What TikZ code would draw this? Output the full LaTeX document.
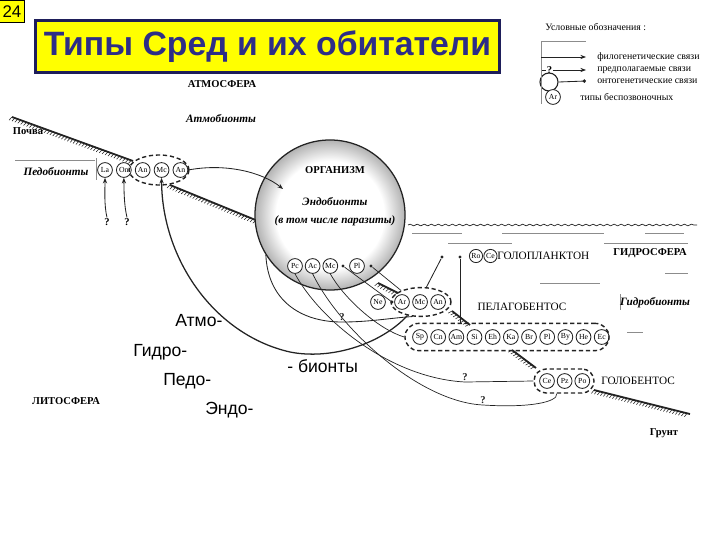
\documentclass[tikz,border=0pt]{standalone}
\usepackage{fontspec}
\setmainfont{Liberation Serif}
\setsansfont{Liberation Sans}
\usetikzlibrary{arrows.meta, positioning, shapes.geometric,
                decorations.markings, decorations.pathmorphing}
\definecolor{TitleYellow}{RGB}{255,255,  0}
\definecolor{TitleNavy}  {RGB}{ 45, 45,135}
\definecolor{FrameNavy}  {RGB}{ 30, 30, 90}
\definecolor{InkGray}    {RGB}{ 35, 35, 35}
\definecolor{FaintGray}  {RGB}{140,140,140}
\pgfdeclareradialshading{organismrim}{\pgfpoint{0bp}{0bp}}{%
  color(0bp)=(white); color(18bp)=(white);
  color(25bp)=(black!30); color(50bp)=(black!30)}
\tikzset{
  % Small circle holding an invertebrate type
  taxon/.style={
    circle, draw=InkGray, line width=0.6pt, fill=white,
    inner sep=0pt, minimum size=0.37cm,
    font=\fontsize{5.5}{6}\selectfont
  },
  % Dashed ellipse round a group of types
  taxongrp/.style={
    ellipse, draw=InkGray, line width=1pt, dash pattern=on 3pt off 2pt,
    inner sep=0pt
  },
  % Dashed band round a long row of types
  taxonband/.style={
    rectangle, rounded corners=#1, draw=InkGray, line width=1pt,
    dash pattern=on 3pt off 2pt, inner sep=0pt
  },
  taxonband/.default=0.34cm,
  % Ontogenetic end dot
  ontodot/.style={circle, fill=InkGray, inner sep=0pt, minimum size=2.4pt},
  % Labels
  capslbl/.style={font=\fontsize{7.5}{8}\selectfont\bfseries, inner sep=0pt},
  capsthin/.style={font=\fontsize{8}{9}\selectfont, inner sep=0pt},
  italbl/.style={font=\fontsize{8}{9}\selectfont\bfseries\itshape, inner sep=0pt},
  bigword/.style={font=\sffamily\fontsize{12.5}{14}\selectfont, inner sep=0pt, anchor=west},
  legendtxt/.style={font=\fontsize{7}{8}\selectfont, anchor=west, inner sep=0pt},
  qmark/.style={font=\fontsize{7.5}{8}\selectfont\bfseries, inner sep=0.5pt},
  % Ground surface with hatching below
  ground/.style={
    line width=1.3pt, InkGray,
    postaction={decorate, decoration={markings,
      mark=between positions 0 and 1 step 2.2pt with
        {\draw[line width=0.4pt] (0,0) -- (-1.2pt,-2.8pt);}}}
  },
  % Links
  phylo/.style={-{Stealth[length=4pt, width=3pt]}, line width=0.6pt, InkGray},
  onto/.style={-{Circle[length=2.4pt]}, line width=0.6pt, InkGray},
  plainlink/.style={line width=0.6pt, InkGray},
  waveline/.style={FaintGray, line width=0.6pt}
}

\begin{document}
\begin{tikzpicture}[x=0.025cm, y=-0.025cm]
  \useasboundingbox (0,0) rectangle (720,540);

  % ── TITLE ────────────────────────────────────────────────────────────────
  \node[draw=black, fill=TitleYellow, line width=0.6pt, inner sep=0pt,
        minimum width=0.62cm, minimum height=0.57cm,
        font=\sffamily\fontsize{12}{12}\selectfont] (slide_no) at (12,11.5) {24};
  \node[draw=FrameNavy, fill=TitleYellow, line width=1.6pt,
        minimum width=11.6cm, minimum height=1.3cm, inner sep=0pt,
        font=\sffamily\bfseries\fontsize{24}{28}\selectfont, text=TitleNavy]
        (title) at (267.5,46.5) {Типы Сред и их обитатели};

  % ── LEGEND ───────────────────────────────────────────────────────────────
  \node[legendtxt] (leg_hdr)   at (545,27) {Условные обозначения :};
  \node[legendtxt] (leg_phylo) at (597,57) {филогенетические связи};
  \node[legendtxt] (leg_guess) at (597,70) {предполагаемые связи};
  \node[legendtxt] (leg_onto)  at (597,81) {онтогенетические связи};
  \node[legendtxt] (leg_type)  at (580,97) {типы беспозвоночных};
  \coordinate (leg_top) at (541,41);
  \coordinate (leg_bot) at (541,104);
  \coordinate (leg_a1) at (586,57);
  \coordinate (leg_a2) at (586,70);
  \coordinate (leg_a3) at (586,81);
  \node[qmark, anchor=east] (leg_q) at (553,70) {?};
  \node[circle, draw=InkGray, line width=0.8pt, minimum size=0.45cm,
        inner sep=0pt] (leg_grp) at (549,82) {};
  \node[taxon] (leg_ar) at (553,97) {Ar};
  \draw[FaintGray, line width=0.5pt] (leg_top) -- (leg_bot);
  \draw[FaintGray, line width=0.5pt] (leg_top) -- (leg_top -| leg_a1);
  \draw[phylo] (leg_top |- leg_phylo) -- (leg_a1);
  \draw[phylo] (leg_q.east) -- (leg_a2);
  \draw[onto] (leg_grp.east) -- (leg_a3);
  \draw[plainlink] (leg_grp.north west |- leg_q) -- (leg_q.west);

  % ── GROUND AND WATER ─────────────────────────────────────────────────────
  \draw[ground] (12,117) -- (133,161);
  \draw[ground] (170,185) -- (258,221);
  \draw[ground] (378,283) -- (398,293);
  \draw[ground] (452,311) -- (470,325);
  \draw[ground] (512,350) -- (536,368);
  \draw[ground] (594,390) -- (690,414);

  \draw[InkGray, line width=0.5pt, decorate,
        decoration={snake, amplitude=0.6pt, segment length=5pt}]
        (408,225) -- (697,225);
  \draw[waveline] (412,233) -- (462,233);
  \draw[waveline] (502,233) -- (604,233);
  \draw[waveline] (645,233) -- (684,233);
  \draw[waveline] (448,243) -- (512,243);
  \draw[waveline] (604,243) -- (688,243);
  \draw[waveline] (540,283) -- (600,283);
  \draw[waveline] (665,273) -- (688,273);
  \draw[waveline] (627,332) -- (643,332);
  \draw[waveline] (620,294) -- (620,310);
  \draw[waveline] (15,160) -- (95,160);
  \draw[waveline] (96,158) -- (96,180);

  % ── SPHERE LABELS ────────────────────────────────────────────────────────
  \node[capslbl] (atmos)   at (222,84)  {АТМОСФЕРА};
  \node[italbl]  (atmo_b)  at (221,119) {Атмобионты};
  \node[capslbl] (soil)    at (28,131)  {Почва};
  \node[italbl]  (pedo_b)  at (56,172)  {Педобионты};
  \node[capslbl] (litho)   at (66,401)  {ЛИТОСФЕРА};
  \node[capslbl] (hydro)   at (650,253) {ГИДРОСФЕРА};
  \node[italbl]  (hydro_b) at (655,303) {Гидробионты};
  \node[capslbl] (bottom)  at (664,433) {Грунт};

  % ── ORGANISM ─────────────────────────────────────────────────────────────
  \node[circle, draw=InkGray, line width=0.9pt, minimum size=3.75cm,
        shading=organismrim] (organism) at (330,215) {};
  \node[capslbl] (org_lbl)  at (335,170) {ОРГАНИЗМ};
  \node[italbl]  (endo_b)   at (335,202) {Эндобионты};
  \node[italbl]  (endo_par) at (335,221) {(в том числе паразиты)};
  \coordinate (org_in) at (283,189);

  % Endobionts
  \node[taxon] (pc) at (295,266) {Pc};
  \node[taxon, right=0.05cm of pc] (ac) {Ac};
  \node[taxon, right=0.05cm of ac] (mc_o) {Mc};
  \node[ontodot] (dot_o1) at (343,266) {};
  \node[taxon] (pl_o) at (357,266) {Pl};
  \node[ontodot] (dot_o2) at (371,266) {};

  % ── SOIL TYPES ───────────────────────────────────────────────────────────
  \node[taxon] (la) at (105,170) {La};
  \node[taxon, right=0.08cm of la]   (on)    {On};
  \node[taxon, right=0.08cm of on]   (an_s)  {An};
  \node[taxon, right=0.08cm of an_s] (mc_s)  {Mc};
  \node[taxon, right=0.08cm of mc_s] (an_s2) {An};
  \node[taxongrp, minimum width=1.5cm, minimum height=0.75cm] (soil_grp) at (159,170) {};

  % ── WATER TYPES ──────────────────────────────────────────────────────────
  % Holoplankton
  \node[taxon, minimum size=0.33cm] (ro) at (476,256) {Ro};
  \node[taxon, minimum size=0.33cm, right=0.01cm of ro] (ce_p) {Ce};
  \node[capsthin, anchor=west] (holopl_lbl) at (497,256) {ГОЛОПЛАНКТОН};
  \node[ontodot] (dot_hp1) at (442,257) {};
  \node[ontodot] (dot_hp2) at (460,257) {};

  % Pelagobenthos
  \node[taxon] (ne) at (378,302) {Ne};
  \node[ontodot] (dot_ar) at (392,302) {};
  \node[taxon] (ar) at (402,302) {Ar};
  \node[taxon, right=0.06cm of ar] (mc_w) {Mc};
  \node[taxon, right=0.06cm of mc_w] (an_w) {An};
  \node[taxongrp, minimum width=1.5cm, minimum height=0.72cm] (ar_grp) at (421,302) {};
  \node[capsthin] (pelago_lbl) at (522,307) {ПЕЛАГОБЕНТОС};

  \node[taxon] (sp) at (420,337) {Sp};
  \node[taxon, right=0.063cm of sp] (cn) {Cn};
  \node[taxon, right=0.063cm of cn] (am) {Am};
  \node[taxon, right=0.063cm of am] (si) {Si};
  \node[taxon, right=0.063cm of si] (eh) {Eh};
  \node[taxon, right=0.063cm of eh] (ka) {Ka};
  \node[taxon, right=0.063cm of ka] (br) {Br};
  \node[taxon, right=0.063cm of br] (pl_w) {Pl};
  \node[taxon, right=0.063cm of pl_w] (by) {By};
  \node[taxon, right=0.063cm of by] (he) {He};
  \node[taxon, right=0.063cm of he] (ec) {Ec};
  \node[taxonband, minimum width=5.1cm, minimum height=0.68cm] (sp_band) at (507,337) {};

  % Holobenthos
  \node[taxon] (ce_b) at (547,381) {Ce};
  \node[taxon, right=0.05cm of ce_b] (pz) {Pz};
  \node[taxon, right=0.05cm of pz] (po) {Po};
  \node[taxonband=0.3cm, minimum width=1.5cm, minimum height=0.6cm] (ce_band) at (564,381) {};
  \node[capsthin, anchor=west] (holobe_lbl) at (601,381) {ГОЛОБЕНТОС};

  % ── LINKS ────────────────────────────────────────────────────────────────
  \node[qmark] (q_la) at (107,222) {?};
  \node[qmark] (q_on) at (127,222) {?};
  \draw[phylo] (q_la.north) .. controls (104,205) and (105,190) .. (la.south);
  \draw[phylo] (q_on.north) .. controls (124,205) and (124,190) .. (on.south);

  \draw[phylo] (an_s2.east) .. controls (225,163) and (262,172) .. (org_in);

  \draw[phylo, line width=0.9pt] (ar_grp.225)
        .. controls (380,345) and (330,360) .. (290,352)
        .. controls (215,335) and (162,260) .. (mc_s.south);

  \draw[plainlink] (organism.212)
        .. controls (268,300) and (300,322) .. (342,322)
        node[qmark, above] (q_org) {?}
        .. controls (370,322) and (390,318) .. (ar_grp.240);

  \draw[plainlink, line width=0.5pt] (pc.south)
        .. controls (320,320) and (390,378) .. (465,382)
        node[qmark, above] (q_ce1) {?}
        -- (ce_band.west);
  \draw[plainlink, line width=0.5pt] (ac.south)
        .. controls (340,330) and (420,402) .. (483,405)
        node[qmark, above] (q_ce2) {?}
        .. controls (530,408) and (558,402) .. (ce_band.240);
  \draw[plainlink, line width=0.5pt] (mc_o.south)
        .. controls (345,300) and (380,330) .. (sp_band.west);

  \draw[plainlink, line width=0.5pt] (dot_o1) -- (dot_ar);
  \draw[plainlink, line width=0.5pt] (dot_o2) -- (ar_grp.150);
  \draw[plainlink] (ar_grp.70) -- (dot_hp1);
  \draw[plainlink] (dot_hp2) -- (dot_hp2 |- sp_band.north);

  % ── BIG WORDS ────────────────────────────────────────────────────────────
  \node[bigword] (w_atmo)  at (175,321) {Атмо-};
  \node[bigword] (w_hydro) at (133,352) {Гидро-};
  \node[bigword] (w_pedo)  at (163,381) {Педо-};
  \node[bigword] (w_endo)  at (205,410) {Эндо-};
  \node[bigword] (w_biont) at (287,366) {- бионты};

\end{tikzpicture}
\end{document}
